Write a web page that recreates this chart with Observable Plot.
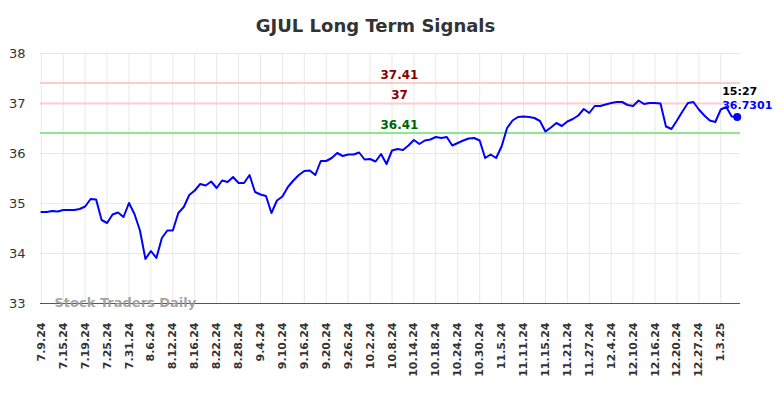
<!DOCTYPE html>
<html>
<head>
<meta charset="utf-8">
<script src="https://cdn.jsdelivr.net/npm/d3@7"></script>
<script src="https://cdn.jsdelivr.net/npm/@observablehq/plot@0.6"></script>
<style>
  html, body { margin: 0; padding: 0; background: #fff; }
  svg { font-family: "DejaVu Sans", sans-serif; display: block; }
</style>
</head>
<body>
<div id="chart"></div>
<script>
const title = "GJUL Long Term Signals";
const tickLabels = ["7.9.24","7.15.24","7.19.24","7.25.24","7.31.24","8.6.24","8.12.24","8.16.24","8.22.24","8.28.24","9.4.24","9.10.24","9.16.24","9.20.24","9.26.24","10.2.24","10.8.24","10.14.24","10.18.24","10.24.24","10.30.24","11.5.24","11.11.24","11.15.24","11.21.24","11.27.24","12.4.24","12.10.24","12.16.24","12.20.24","12.27.24","1.3.25"];
const tickEvery = 4;
const prices = [34.83,34.83,34.85,34.84,34.87,34.87,34.87,34.89,34.94,35.09,
  35.08,34.67,34.61,34.78,34.82,34.73,35.01,34.79,34.46,33.89,
  34.05,33.91,34.31,34.46,34.46,34.81,34.93,35.17,35.26,35.39,
  35.36,35.44,35.31,35.46,35.43,35.53,35.41,35.41,35.57,35.23,
  35.18,35.15,34.81,35.06,35.14,35.33,35.46,35.57,35.65,35.66,
  35.57,35.85,35.85,35.91,36.01,35.95,35.98,35.98,36.02,35.88,
  35.89,35.84,35.99,35.79,36.06,36.09,36.07,36.16,36.27,36.19,
  36.26,36.28,36.33,36.31,36.33,36.16,36.21,36.26,36.30,36.31,
  36.26,35.91,35.98,35.91,36.14,36.51,36.66,36.73,36.74,36.73,
  36.71,36.65,36.44,36.52,36.61,36.55,36.64,36.69,36.76,36.89,
  36.81,36.95,36.95,36.98,37.01,37.03,37.03,36.97,36.95,37.06,
  36.99,37.01,37.01,37.00,36.54,36.49,36.66,36.84,37.01,37.03,
  36.88,36.76,36.66,36.63,36.88,36.93,36.74,36.7301];
const redLevels = [37.41, 37];
const greenLevels = [36.41];
const lastTime = "15:27";
const lastValueLabel = "36.7301";
const yTicks = [33, 34, 35, 36, 37, 38];

const data = prices.map((v, i) => ({i, v}));
const last = data[data.length - 1];
const tickIdx = tickLabels.map((_, k) => k * tickEvery);

const chart = Plot.plot({
  width: 784,
  height: 398,
  marginLeft: 40,
  marginRight: 44,
  marginTop: 53,
  marginBottom: 95,
  style: {fontFamily: "DejaVu Sans, sans-serif", background: "#fff"},
  x: {domain: [-0.15, 127.6]},
  y: {domain: [33, 38]},
  marks: [
    Plot.gridY(yTicks, {stroke: "#e8e8e8", strokeOpacity: 1, strokeWidth: 1}),
    Plot.gridX(tickIdx, {stroke: "#e8e8e8", strokeOpacity: 1, strokeWidth: 1}),
    Plot.axisY(yTicks, {tickSize: 0, tickPadding: 15, fontSize: 13, fill: "#333", label: null, tickFormat: d => String(d)}),
    Plot.axisX(tickIdx, {tickSize: 0, tickPadding: 19, tickRotate: -90, fontSize: 11, fontWeight: "bold", fill: "#333", label: null,
      tickFormat: (d) => tickLabels[d / tickEvery]}),
    Plot.ruleY(redLevels, {stroke: "#ffcccc", strokeWidth: 2}),
    Plot.ruleY(greenLevels, {stroke: "#90e690", strokeWidth: 2}),
    Plot.ruleY([33], {stroke: "#555", strokeWidth: 1}),
    Plot.text(redLevels, {y: d => d, text: d => String(d), frameAnchor: "middle", dx: 9, dy: -8, fill: "#8b0000", fontWeight: "bold", fontSize: 12}),
    Plot.text(greenLevels, {y: d => d, text: d => String(d), frameAnchor: "middle", dx: 9, dy: -8, fill: "#006400", fontWeight: "bold", fontSize: 12}),
    Plot.text([title], {frameAnchor: "top", lineAnchor: "middle", dy: -27, dx: -15, fontSize: 18, fontWeight: "bold", fill: "#333"}),
    Plot.text(["Stock Traders Daily"], {frameAnchor: "bottom-left", dx: 14, dy: 3, textAnchor: "start", fontSize: 13, fontWeight: "bold", fill: "#999", fillOpacity: 0.9}),
    Plot.line(data, {x: "i", y: "v", stroke: "#0000ff", strokeWidth: 2}),
    Plot.dot([last], {x: "i", y: "v", r: 4, fill: "#0000ff", stroke: "none"}),
    Plot.text([last], {x: "i", y: "v", text: () => lastTime, dx: -15, dy: -26, textAnchor: "start", fontSize: 11, fontWeight: "bold", fill: "#000"}),
    Plot.text([last], {x: "i", y: "v", text: () => lastValueLabel, dx: -15, dy: -12, textAnchor: "start", fontSize: 11, fontWeight: "bold", fill: "#0000ff"})
  ]
});
document.getElementById("chart").appendChild(chart);
</script>
</body>
</html>
